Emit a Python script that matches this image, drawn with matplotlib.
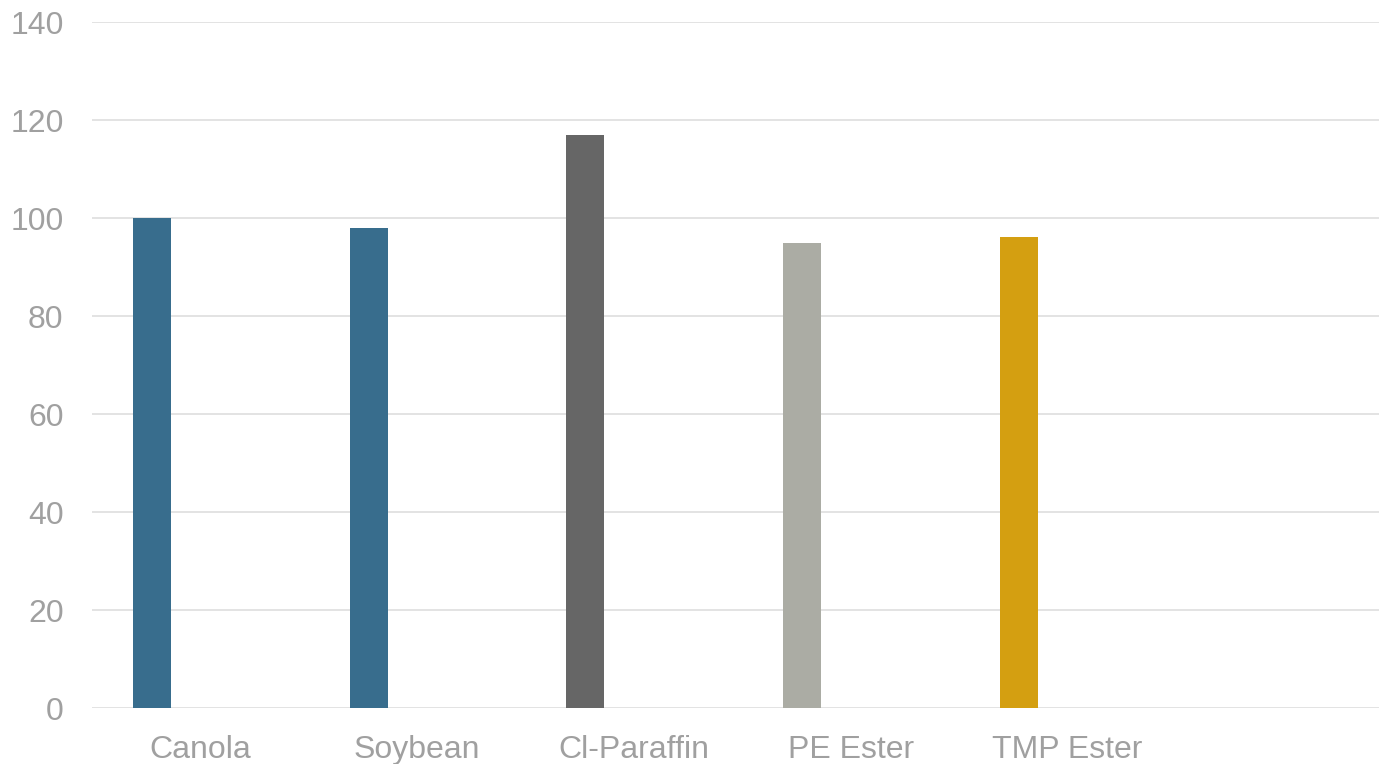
import matplotlib
matplotlib.use("Agg")
import matplotlib.pyplot as plt

categories = ["Canola", "Soybean", "Cl-Paraffin", "PE Ester", "TMP Ester", ""]
values = [100, 98, 117, 95, 96.2, None]
colors = ["#386D8D", "#386D8D", "#666666", "#ABACA4", "#D49F11", "#FFFFFF"]
yticks = [0, 20, 40, 60, 80, 100, 120, 140]

plt.rcParams['font.family'] = ['Liberation Sans', 'DejaVu Sans']

W, H = 1379, 764
fig = plt.figure(figsize=(W / 100, H / 100), dpi=100)
left, right, bottom, top = 92, 1379, 708, 22
ax = fig.add_axes([left / W, 1 - bottom / H, (right - left) / W, (bottom - top) / H])

slot = 216.75
offset = -48.4 / slot
width = 38 / slot
for i, (v, c) in enumerate(zip(values, colors)):
    if v is None:
        continue
    ax.bar(i + offset, v, width=width, color=c, zorder=3)

ax.set_xlim(-0.5, -0.5 + (right - left) / slot)
ax.set_ylim(0, 140)
ax.set_yticks(yticks)
ax.set_xticks(range(len(categories)))
ax.set_xticklabels(categories)
ax.grid(axis='y', color='#E3E3E3', linewidth=1.4, zorder=0)
ax.set_axisbelow(True)
for s in ax.spines.values():
    s.set_visible(False)
ax.tick_params(axis='both', length=0, labelsize=23, labelcolor='#A0A0A0')
ax.tick_params(axis='y', pad=20.5)
ax.tick_params(axis='x', pad=19.5)

fig.savefig("out.png", dpi=100, facecolor='white')
